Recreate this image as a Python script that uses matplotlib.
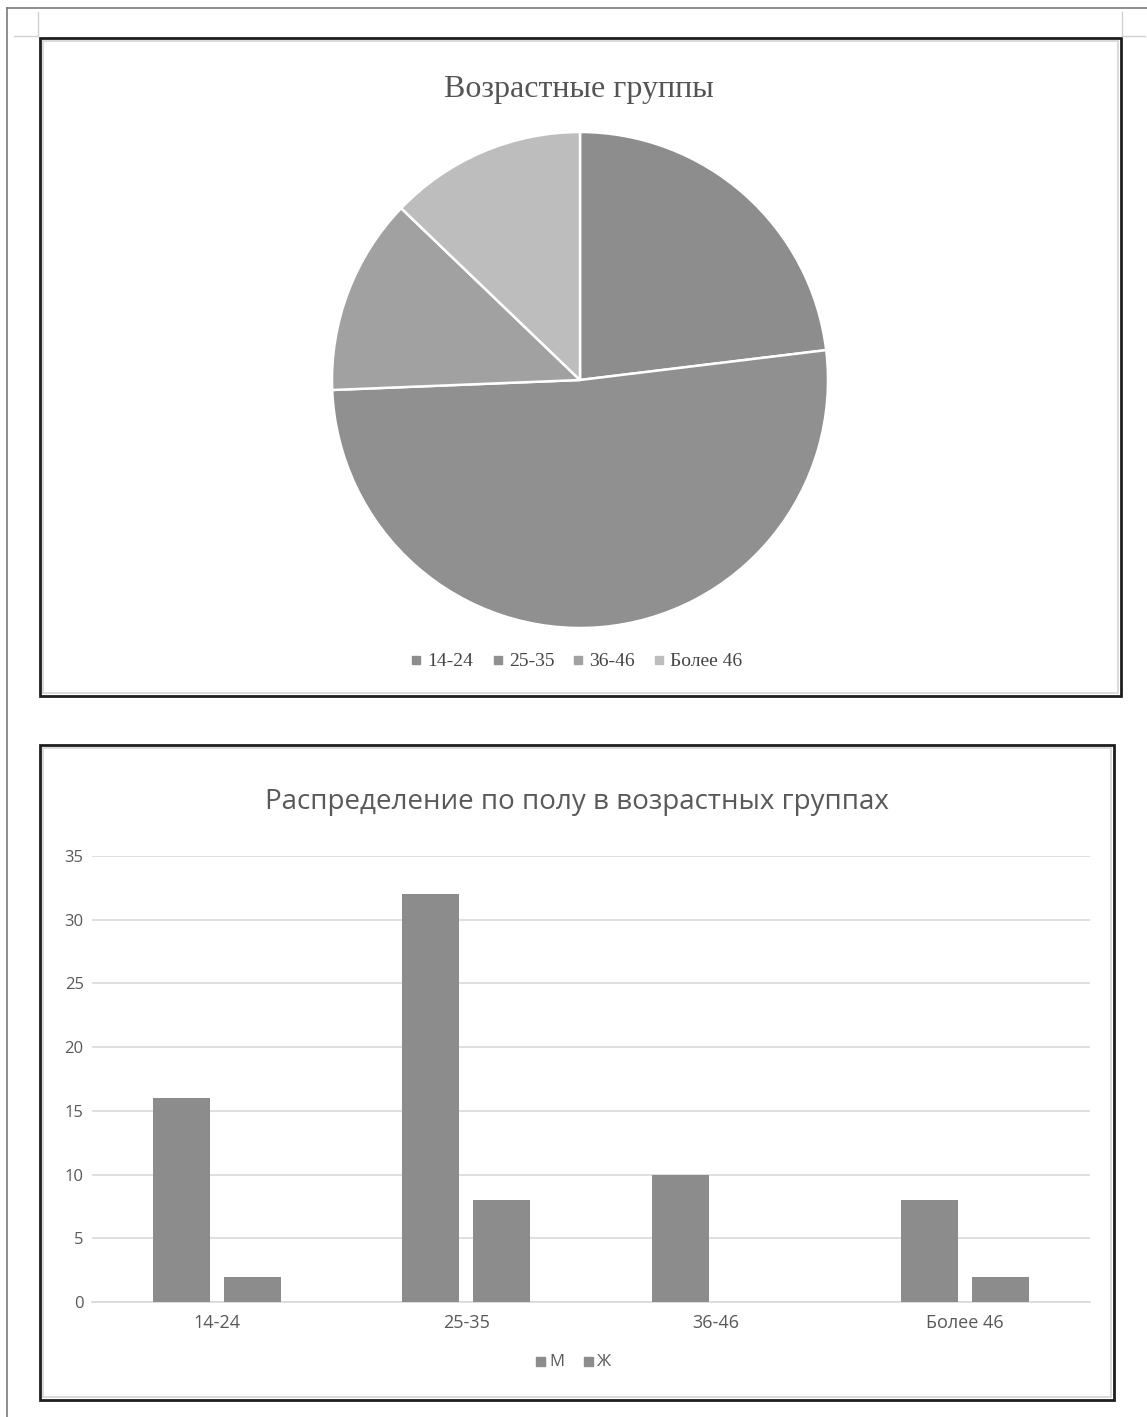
import matplotlib
matplotlib.use("Agg")
import matplotlib.pyplot as plt
from matplotlib.patches import Rectangle
import numpy as np

# Age groups (pie) and gender split per group (bars)
age_groups = ["14-24", "25-35", "36-46", "Более 46"]
men = [16, 32, 10, 8]
women = [2, 8, 0, 2]
group_totals = [m + w for m, w in zip(men, women)]
pie_colors = ["#8d8d8d", "#909090", "#a1a1a1", "#bdbdbd"]
bar_color = "#8c8c8c"

W, H = 1147, 1417
fig = plt.figure(figsize=(W / 100, H / 100), dpi=100)


def px_axes(left, top, right, bottom, **kw):
    return fig.add_axes([left / W, 1 - bottom / H, (right - left) / W, (bottom - top) / H], **kw)


# Page background with frames
bg = px_axes(0, 0, W, H)
bg.set_xlim(0, W)
bg.set_ylim(H, 0)
bg.axis("off")
# page edge
bg.plot([7, 7], [8, H], color="#7a7a7a", lw=1.2)
bg.plot([7, W], [8, 8], color="#7a7a7a", lw=1.2)
# corner marks
bg.plot([38, 38], [12, 36], color="#d0d0d0", lw=1)
bg.plot([14, 38], [36, 36], color="#d0d0d0", lw=1)
bg.plot([1122, 1122], [12, 36], color="#d0d0d0", lw=1)
bg.plot([1122, 1145], [36, 36], color="#d0d0d0", lw=1)
# chart frames
for (x0, y0, x1, y1) in [(40, 38, 1121, 696), (40, 745, 1114, 1400)]:
    bg.add_patch(Rectangle((x0 + 3, y0 + 3), x1 - x0 - 6, y1 - y0 - 6,
                           fill=False, ec="#d4d4d4", lw=1.2))
    bg.add_patch(Rectangle((x0, y0), x1 - x0, y1 - y0, fill=False, ec="#1e1e1e", lw=2))

# ---- Pie chart ----
cx, cy, r = 580, 380, 248
pax = px_axes(cx - r, cy - r, cx + r, cy + r)
pax.pie(group_totals, colors=pie_colors, startangle=90, counterclock=False,
        wedgeprops=dict(edgecolor="white", linewidth=1.8))
pax.set_aspect("equal")
pax.set_xlim(-1, 1)
pax.set_ylim(-1, 1)

fig.text(579 / W, 1 - 90 / H, "Возрастные группы", ha="center", va="center",
         fontsize=23, family="Liberation Serif", color="#555555")

# pie legend
leg_x = [412, 494, 574, 655]
for x, lab, c in zip(leg_x, age_groups, pie_colors):
    bg.add_patch(Rectangle((x, 656), 8, 8, color=c))
    bg.text(x + 15, 661, lab, ha="left", va="center", fontsize=14,
            family="Liberation Serif", color="#444444")

# ---- Bar chart ----
bax = px_axes(92, 856, 1090, 1302)
x = np.arange(len(age_groups))
bw = 0.229
off = 0.143
bax.bar(x - off, men, width=bw, color=bar_color, zorder=3)
bax.bar(x + off, women, width=bw, color=bar_color, zorder=3)
bax.set_xlim(-0.5, len(age_groups) - 0.5)
bax.set_ylim(0, 35)
bax.set_yticks(np.arange(0, 36, 5))
bax.yaxis.grid(True, color="#d9d9d9", lw=1.2, zorder=0)
bax.set_xticks(x)
bax.set_xticklabels(age_groups)
for s in ["top", "right", "left"]:
    bax.spines[s].set_visible(False)
bax.spines["bottom"].set_color("#d9d9d9")
bax.spines["bottom"].set_linewidth(1.2)
bax.tick_params(length=0, labelcolor="#595959")
bax.tick_params(axis="x", labelsize=13, pad=9)
bax.tick_params(axis="y", labelsize=12, pad=6)
for t in bax.get_xticklabels() + bax.get_yticklabels():
    t.set_family("Open Sans")
bax.set_facecolor("none")

fig.text(577 / W, 1 - 802 / H, "Распределение по полу в возрастных группах",
         ha="center", va="center", fontsize=20, family="Open Sans", color="#595959")

# bar legend
for x0, lab in [(536, "М"), (584, "Ж")]:
    bg.add_patch(Rectangle((x0, 1357), 9, 9, color=bar_color))
    bg.text(x0 + 13, 1362, lab, ha="left", va="center", fontsize=12,
            family="Open Sans", color="#595959")

fig.savefig("out.png", dpi=100, facecolor="white")
